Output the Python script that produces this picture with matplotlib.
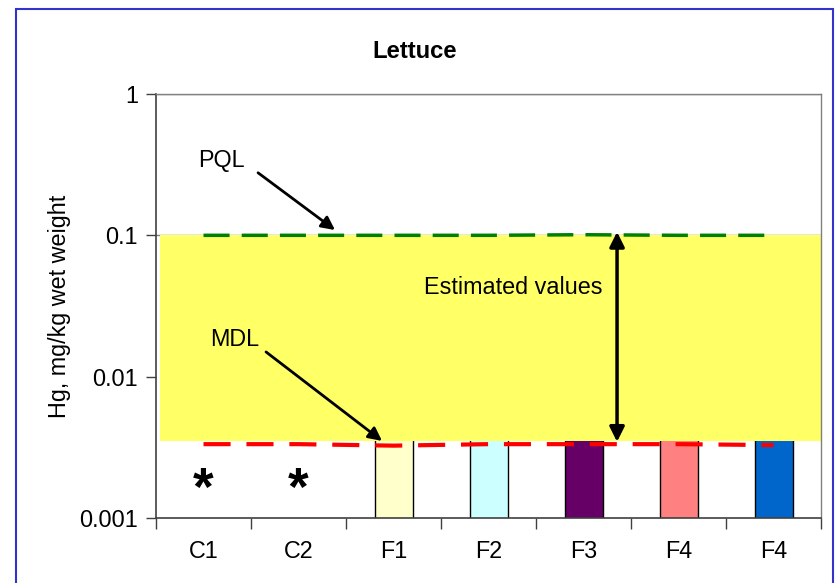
import numpy as np
import matplotlib
matplotlib.use('Agg')
import matplotlib.pyplot as plt
from matplotlib.patches import Rectangle

plt.rcParams['font.family'] = ['Liberation Sans', 'DejaVu Sans']

# data
categories = ['C1', 'C2', 'F1', 'F2', 'F3', 'F4', 'F4']
bar_values = [np.nan, np.nan, 0.0037, 0.0037, 0.0037, 0.0037, 0.0037]
bar_colors = ['white', 'white', '#FFFFCC', '#CCFFFF', '#660066', '#FF8080', '#0066CC']
pql_values = [0.1, 0.1, 0.1, 0.1, 0.101, 0.1, 0.1]
mdl_values = [0.00333, 0.00333, 0.00325, 0.00333, 0.00333, 0.00333, 0.00328]
nd_categories = ['C1', 'C2']      # not detected -> asterisk
nd_level = 0.00155
band_low, band_high = 0.0035, 0.1

FS = 16.8

fig = plt.figure(figsize=(8.37, 5.83), dpi=100)
ax = fig.add_axes([0.1864, 0.1115, 0.7945, 0.7273])
x = np.arange(len(categories))

ax.set_yscale('log')
ax.set_ylim(0.001, 1)
ax.set_xlim(-0.5, len(categories) - 0.5)

# gridlines at the decades
for v in [0.1, 1]:
    ax.axhline(v, color='#808080', lw=1.0, zorder=0.5)

ax.bar(x, bar_values, width=0.4, color=bar_colors, edgecolor='black',
       linewidth=1.0, zorder=1)

ax.axhspan(band_low, band_high, xmin=0.006, xmax=1.0, color='#FFFF66',
           lw=0, zorder=2)

ax.plot(x, pql_values, color='#008000', lw=2.5, dashes=(7.5, 3.5), zorder=3)
ax.plot(x, mdl_values, color='#FF0000', lw=3.0, dashes=(6.5, 3.8), zorder=3)

for c in nd_categories:
    ax.text(categories.index(c), nd_level, '*', ha='center', va='center',
            fontsize=38, fontweight='bold', zorder=4)

arrow = dict(arrowstyle='-|>', color='black', lw=2.0, mutation_scale=20,
             shrinkA=0, shrinkB=0)
ax.text(-0.058, 0.336, 'PQL', fontsize=FS, ha='left', va='center', zorder=5)
ax.annotate('', xy=(1.384, 0.109), xytext=(0.574, 0.277), zorder=5,
            arrowprops=arrow)
ax.text(0.068, 0.0182, 'MDL', fontsize=FS, ha='left', va='center', zorder=5)
ax.annotate('', xy=(1.879, 0.00351), xytext=(0.658, 0.01496), zorder=5,
            arrowprops=arrow)
ax.annotate('', xy=(4.353, 0.1057), xytext=(4.353, 0.00346), zorder=5,
            arrowprops=dict(arrowstyle='<|-|>', color='black', lw=2.5,
                            mutation_scale=22, shrinkA=0, shrinkB=0))
ax.text(2.32, 0.0425, 'Estimated values', fontsize=FS, ha='left',
        va='center', zorder=5)

# spines: dark left/bottom, grey top/right
for s in ['left', 'bottom']:
    ax.spines[s].set_color('#404040')
    ax.spines[s].set_linewidth(1.2)
for s in ['top', 'right']:
    ax.spines[s].set_color('#808080')
    ax.spines[s].set_linewidth(1.0)

ax.set_yticks([0.001, 0.01, 0.1, 1])
ax.set_yticklabels(['0.001', '0.01', '0.1', '1'])
ax.yaxis.set_minor_locator(matplotlib.ticker.NullLocator())
ax.tick_params(axis='y', which='major', direction='out', length=7,
               width=1.0, labelsize=FS, pad=6, color='#404040')

ax.set_xticks(x)
ax.set_xticklabels(categories)
ax.set_xticks(np.arange(len(categories) + 1) - 0.5, minor=True)
ax.tick_params(axis='x', which='major', length=0, labelsize=FS, pad=16)
ax.tick_params(axis='x', which='minor', direction='out', length=8,
               width=1.0, color='#404040')

ax.set_ylabel('Hg, mg/kg wet weight', fontsize=FS, labelpad=6)

fig.text(0.496, 0.911, 'Lettuce', fontsize=FS + 0.4, fontweight='bold',
         ha='center', va='center')

# blue frame round the whole chart
fig.patches.append(Rectangle((16 / 837, -0.01), (833 - 16) / 837, 1 - 9 / 583 + 0.01,
                             transform=fig.transFigure, fill=False,
                             edgecolor='#3333CC', linewidth=1.5))

fig.savefig('out.png', dpi=100)
